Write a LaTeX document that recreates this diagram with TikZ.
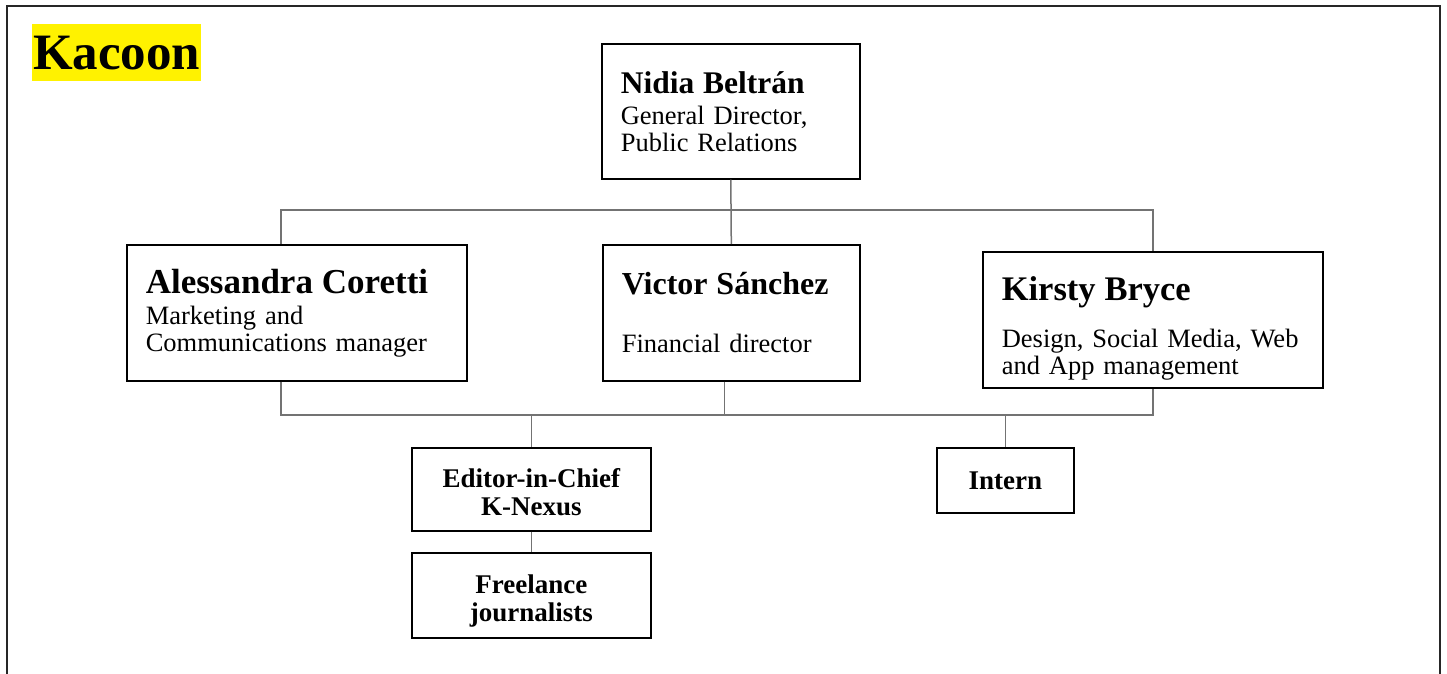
\documentclass[tikz,border=0pt]{standalone}
\usepackage{fontspec}
\setmainfont{Liberation Serif}
\tikzset{
	box/.style={draw=black, line width=1.6pt, anchor=north west, inner xsep=19pt, inner ysep=0pt, align=left},
	smallbox/.style={draw=black, line width=1.6pt, anchor=north west, inner sep=0pt, align=center, font=\fontsize{27}{28}\selectfont\bfseries},
	link/.style={draw=black!55, line width=1.5pt}
}
\def\role{\fontsize{26.5}{27}\selectfont}
\def\who#1#2{{\fontsize{#1}{#1}\selectfont\bfseries #2}}

\begin{document}
\begin{tikzpicture}[x=1pt, y=-1pt]
			%%%%% START %%%%%
			\useasboundingbox (0,0) rectangle (1447,674);
			
			\draw[line width=1.5pt, color=black!85] (7,700) |- (1440,6) -- (1440,700);
			\node[fill=yellow, inner sep=0pt, minimum width=169pt, minimum height=57pt, anchor=north west, font=\fontsize{51}{51}\selectfont\bfseries] (title) at (32,24) {Kacoon};
			
			\node[box, minimum width=258pt, minimum height=135pt, text width=220pt, font=\role] (nidia) at (601,43) {\who{31.5}{Nidia Beltrán}\\[4pt] General Director,\\ Public Relations};
			
			\node[box, minimum width=340pt, minimum height=136pt, text width=302pt, font=\role] (ale) at (126,244) {\who{35}{Alessandra Coretti}\\[4pt] Marketing and\\ Communications manager};
			\node[box, minimum width=257pt, minimum height=136pt, text width=219pt, font=\role] (vic) at (602,244) {\who{32}{Victor Sánchez}\\[31pt] Financial director};
			\node[box, minimum width=340pt, minimum height=136pt, text width=302pt, font=\role] (kir) at (982,251) {\rule{0pt}{41.6pt}\who{34.5}{Kirsty Bryce}\\[20pt] Design, Social Media, Web\\ and App management};
			
			\node[smallbox, minimum width=239pt, minimum height=83pt] (editor) at (411,447) {\rule{0pt}{25pt}Editor-in-Chief\\ K-Nexus};
			\node[smallbox, minimum width=239pt, minimum height=85pt] (freelance) at (411,552) {\rule{0pt}{30pt}Freelance\\ journalists};
			\node[smallbox, minimum width=137pt, minimum height=65pt] (intern) at (936,447) {Intern};
			
			\coordinate (topbus) at (0,210);
			\coordinate (lowbus) at (0,415);
			
			\draw[link] (nidia.south) -- (vic.north);
			\draw[link] ([xshift=-16pt]ale.north) |- (kir.north |- topbus) -- (kir.north);
			\draw[link] ([xshift=-16pt]ale.south) |- (kir.south |- lowbus) -- (kir.south);
			\draw[link] ([xshift=-7pt]vic.south) -- ([xshift=-7pt]vic.south |- lowbus);
			\draw[link] (editor.north) -- (editor.north |- lowbus);
			\draw[link] (intern.north) -- (intern.north |- lowbus);
			\draw[link] (editor.south) -- (freelance.north);
			%%%%% END %%%%%
\end{tikzpicture}
\end{document}
